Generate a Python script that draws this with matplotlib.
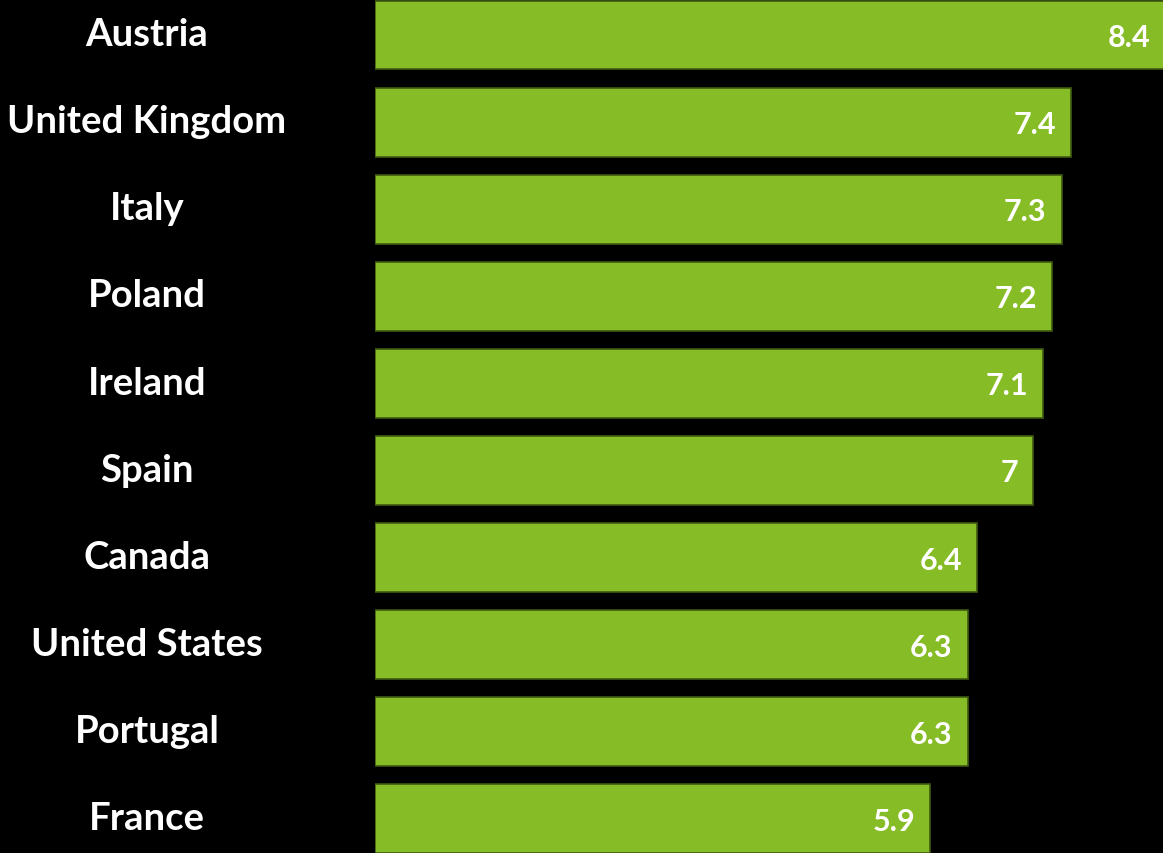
import matplotlib
matplotlib.use('Agg')
import matplotlib.pyplot as plt
import matplotlib.transforms as mtransforms

countries = ['Austria', 'United Kingdom', 'Italy', 'Poland', 'Ireland',
             'Spain', 'Canada', 'United States', 'Portugal', 'France']
values = [8.4, 7.4, 7.3, 7.2, 7.1, 7.0, 6.4, 6.3, 6.3, 5.9]
value_labels = ['8.4', '7.4', '7.3', '7.2', '7.1', '7', '6.4', '6.3', '6.3', '5.9']

bar_color = '#86bc25'
plt.rcParams['font.family'] = ['Lato', 'DejaVu Sans']


def main():
    W, H = 1163, 854
    fig = plt.figure(figsize=(W / 100, H / 100), dpi=100, facecolor='black')
    ax = fig.add_axes([375 / W, 0, (W - 375) / W, 1])
    ax.set_facecolor('black')

    pos = list(range(len(countries)))
    ax.barh(pos, values, height=0.79, color=bar_color, edgecolor='#3f5a12', linewidth=1.2)

    # 94.05 px per unit, bar centres start at 36 px, pitch 87.1 px
    ax.set_xlim(0, (W - 375) / 94.05)
    ax.set_ylim((H - 36) / 87.1, -36 / 87.1)
    ax.axis('off')

    for i, (v, lab) in enumerate(zip(values, value_labels)):
        ax.annotate(lab, (v, i), xytext=(-15, -2), textcoords='offset pixels',
                    ha='right', va='center', color='white', fontsize=22,
                    fontweight='bold', annotation_clip=False)

    trans = mtransforms.blended_transform_factory(fig.transFigure, ax.transData)
    for i, name in enumerate(countries):
        ax.text(147 / W, i - 0.01, name, transform=trans, ha='center', va='center',
                color='white', fontsize=27.5, fontweight='bold')

    fig.savefig('out.png', dpi=100, facecolor='black')
    print('ok')


if __name__ == '__main__':
    main()
